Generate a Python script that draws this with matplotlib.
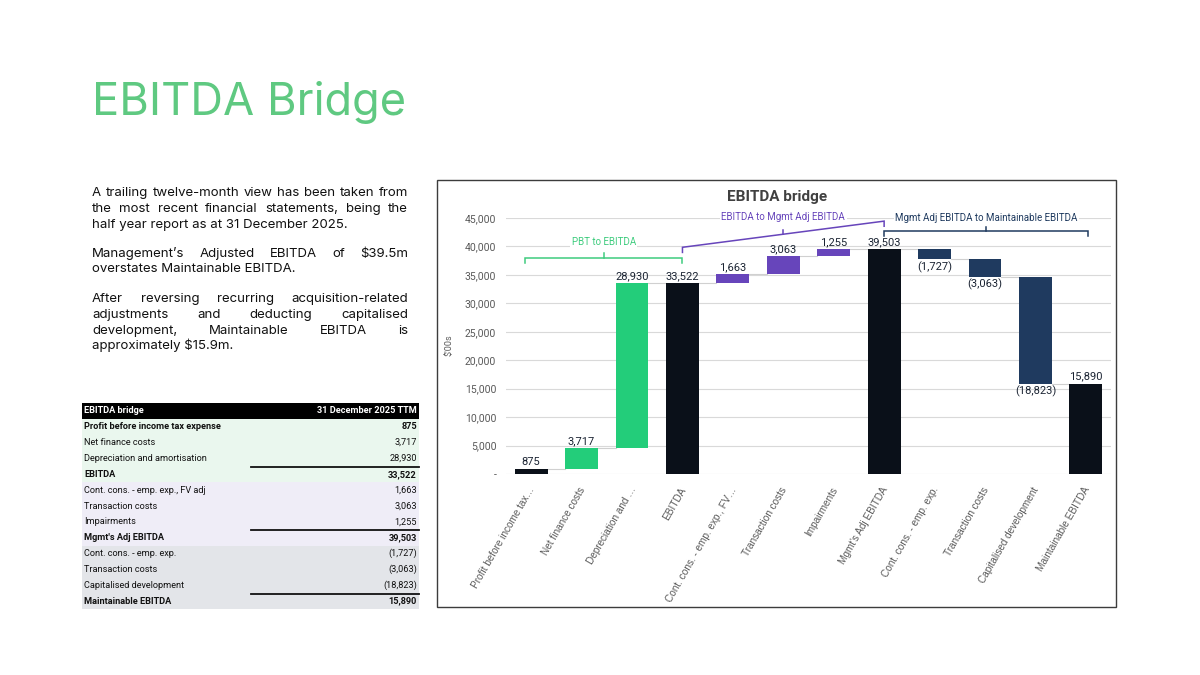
import numpy as np
import matplotlib
matplotlib.use("Agg")
from matplotlib import pyplot as plt
from matplotlib.patches import Rectangle
from matplotlib.transforms import ScaledTranslation

# ---- data ----
steps = ["Profit before income tax expense", "Net finance costs", "Depreciation and amortisation",
         "EBITDA", "Cont. cons. - emp. exp., FV adj", "Transaction costs", "Impairments",
         "Mgmt's Adj EBITDA", "Cont. cons. - emp. exp.", "Transaction costs",
         "Capitalised development", "Maintainable EBITDA"]
axisLabels = ["Profit before income tax\u2026", "Net finance costs", "Depreciation and \u2026",
              "EBITDA", "Cont. cons. - emp. exp., FV\u2026", "Transaction costs", "Impairments",
              "Mgmt's Adj EBITDA", "Cont. cons. - emp. exp.", "Transaction costs",
              "Capitalised development", "Maintainable EBITDA"]
amounts = [875, 3717, 28930, 33522, 1663, 3063, 1255, 39503, -1727, -3063, -18823, 15890]
kinds = ["total", "pbt", "pbt", "total", "mgmt", "mgmt", "mgmt", "total",
         "maint", "maint", "maint", "total"]
boldRows = [0, 3, 7, 11]
groups = [("PBT to EBITDA", 0, 3), ("EBITDA to Mgmt Adj EBITDA", 3, 7),
          ("Mgmt Adj EBITDA to Maintainable EBITDA", 7, 11)]

paragraphs = [
    ["A trailing twelve-month view has been taken from",
     "the most recent financial statements, being the",
     "half year report as at 31 December 2025."],
    ["Management\u2019s Adjusted EBITDA of $39.5m",
     "overstates Maintainable EBITDA."],
    ["After reversing recurring acquisition-related",
     "adjustments and deducting capitalised",
     "development, Maintainable EBITDA is",
     "approximately $15.9m."],
]

colors = {"total": "#0a1019", "pbt": "#23cd7a", "mgmt": "#6745bb", "maint": "#1f3a5f"}
bracketColors = ["#3fcc7e", "#6745bb", "#1f3a5f"]
TITLE_GREEN = "#5fc981"

TITLEF = ["Inter", "DejaVu Sans"]
BODY = ["Inter", "DejaVu Sans"]
CHART = ["Roboto", "DejaVu Sans"]


def fmt(v):
    if v < 0:
        return "({:,})".format(-v)
    return "{:,}".format(v)


fig = plt.figure(figsize=(12, 6.75), dpi=100)
fig.patch.set_facecolor("white")
r = fig.canvas.get_renderer()

# slide layer in pixel coordinates
ax0 = fig.add_axes([0, 0, 1, 1])
ax0.set_xlim(0, 1200)
ax0.set_ylim(675, 0)
ax0.axis("off")


def width_of(txt, **kw):
    t = ax0.text(0, 0, txt, **kw)
    w = t.get_window_extent(r).width
    t.remove()
    return w


# title, sized to the slide width it takes
tsize = 36 * 314.0 / width_of("EBITDA Bridge", fontsize=36, family=TITLEF)
ax0.text(92, 115, "EBITDA Bridge", fontsize=tsize, family=TITLEF, color=TITLE_GREEN,
         va="baseline", ha="left")

# justified body text (size between the fit of the first and of the last line)
fitA = 10 * 308.0 / width_of(paragraphs[0][0], fontsize=10, family=BODY)
fitB = 10 * 260.0 / width_of(paragraphs[0][2], fontsize=10, family=BODY)
psize = (fitA + fitB) / 2
txtkw = dict(fontsize=psize, family=BODY, color="#111111", va="baseline", ha="left")
x0, x1 = 92, 408
lineY = [[196, 212, 228], [257, 272], [302, 318, 334, 349]]
for para, ys in zip(paragraphs, lineY):
    for k, (line, y) in enumerate(zip(para, ys)):
        if k == len(para) - 1:
            ax0.text(x0, y, line, **txtkw)
            continue
        words = line.split()
        ws = [width_of(w, fontsize=psize, family=BODY) for w in words]
        gap = (x1 - x0 - sum(ws)) / (len(words) - 1)
        x = x0
        for w, wd in zip(words, ws):
            ax0.text(x, y, w, **txtkw)
            x += wd + gap

# table
tfs = 6.6
tx0, tx1, ty0, rowH = 82, 419, 403, 15.85
ax0.add_patch(Rectangle((tx0, ty0), tx1 - tx0, rowH, fc="#000000", ec="none"))
ax0.text(tx0 + 2, ty0 + rowH / 2, "EBITDA bridge", color="white", fontsize=tfs,
         fontweight="bold", family=CHART, va="center")
ax0.text(tx1 - 2, ty0 + rowH / 2, "31 December 2025 TTM", color="white", fontsize=tfs,
         fontweight="bold", family=CHART, va="center", ha="right")
bands = ["#eaf7ee"] * 4 + ["#efedf7"] * 4 + ["#e3e5e9"] * 4
for i, (name, val) in enumerate(zip(steps, amounts)):
    y = ty0 + rowH * (i + 1)
    ax0.add_patch(Rectangle((tx0, y), tx1 - tx0, rowH, fc=bands[i], ec="none"))
    wt = "bold" if i in boldRows else "normal"
    ax0.text(tx0 + 2, y + rowH / 2, name, fontsize=tfs, fontweight=wt, family=CHART,
             color="#111111", va="center")
    ax0.text(tx1 - 2, y + rowH / 2, fmt(val), fontsize=tfs, fontweight=wt, family=CHART,
             color="#111111", va="center", ha="right")
    if i in boldRows[1:]:
        ax0.plot([251, tx1], [y + 0.6, y + 0.6], color="#111111", lw=1.3)

# chart frame and titles
ax0.add_patch(Rectangle((437, 180), 679, 427, fill=False, ec="#3c3c3c", lw=1))
ax0.text(777, 197, "EBITDA bridge", fontsize=11, fontweight="bold", family=CHART,
         color="#404040", ha="center", va="center")
ax0.text(449, 345, "$'00s", fontsize=6.5, family=CHART, color="#595959", rotation=90,
         ha="center", va="center")

# waterfall
ax = fig.add_axes([506 / 1200, 1 - 474 / 675, 605 / 1200, 256 / 675])
ax.set_xlim(-0.5, 11.5)
ax.set_ylim(0, 45000)
for s in ax.spines.values():
    s.set_visible(False)
ax.set_axisbelow(True)
ax.yaxis.grid(True, color="#d9d9d9", lw=0.8)
ax.set_yticks(np.arange(0, 45001, 5000))
ax.set_yticklabels(["-" if v == 0 else "{:,}".format(v) for v in np.arange(0, 45001, 5000)],
                   family=CHART, fontsize=7.5, color="#595959")
ax.tick_params(axis="both", length=0)
ax.tick_params(axis="y", pad=7)
ax.set_xticks(range(len(axisLabels)))
ax.set_xticklabels(axisLabels, rotation=60, ha="right", va="top", rotation_mode="anchor",
                   fontsize=7.2, color="#595959", family=["Liberation Sans", "DejaVu Sans"])
ax.tick_params(axis="x", pad=8)
shift = ScaledTranslation(-3 / 100, 0, fig.dpi_scale_trans)
for lab in ax.get_xticklabels():
    lab.set_transform(lab.get_transform() + shift)

w = 0.65
running = 0
levels = []
for i, (v, kd) in enumerate(zip(amounts, kinds)):
    if kd == "total":
        bottom, height = 0, v
        running = v
    else:
        bottom = running if v > 0 else running + v
        height = abs(v)
        running += v
    levels.append(running)
    ax.bar(i, height, bottom=bottom, width=w, color=colors[kd], zorder=3)
    if v >= 0:
        ax.annotate(fmt(v), (i, bottom + height), xytext=(0, 1.5), textcoords="offset points",
                    ha="center", va="bottom", fontsize=8, family=CHART, color="#1b2433")
    else:
        ax.annotate(fmt(v), (i, bottom), xytext=(0, -1.5), textcoords="offset points",
                    ha="center", va="top", fontsize=8, family=CHART, color="#1b2433")
for i in range(len(amounts) - 1):
    ax.plot([i + w / 2, i + 1 - w / 2], [levels[i], levels[i]], color="#d0d0d0", lw=0.8,
            zorder=2)

# group brackets
bk = [(-0.12, 3.0, 38000, 38000, 40800), (3.0, 7.0, 39850, 44450, 45250),
      (7.0, 11.05, 42700, 42700, 45050)]
for (name, a, b), (xa, xb, ya, yb, ylab), c in zip(groups, bk, bracketColors):
    tick = 900
    xm = (xa + xb) / 2
    ym = ya + (yb - ya) * (xm - xa) / (xb - xa)
    ax.plot([xa, xa, xb, xb], [ya - tick, ya, yb, yb - tick], color=c, lw=1.1,
            clip_on=False, zorder=4, solid_joinstyle="miter")
    ax.plot([xm, xm], [ym, ym + 800], color=c, lw=1.1, clip_on=False, zorder=4)
    ax.text(xm, ylab, name, color=c, fontsize=7, family=CHART, ha="center", va="center",
            zorder=5, bbox=dict(fc="white", ec="none", pad=1.0))

fig.savefig("out.png", dpi=100, facecolor="white")
